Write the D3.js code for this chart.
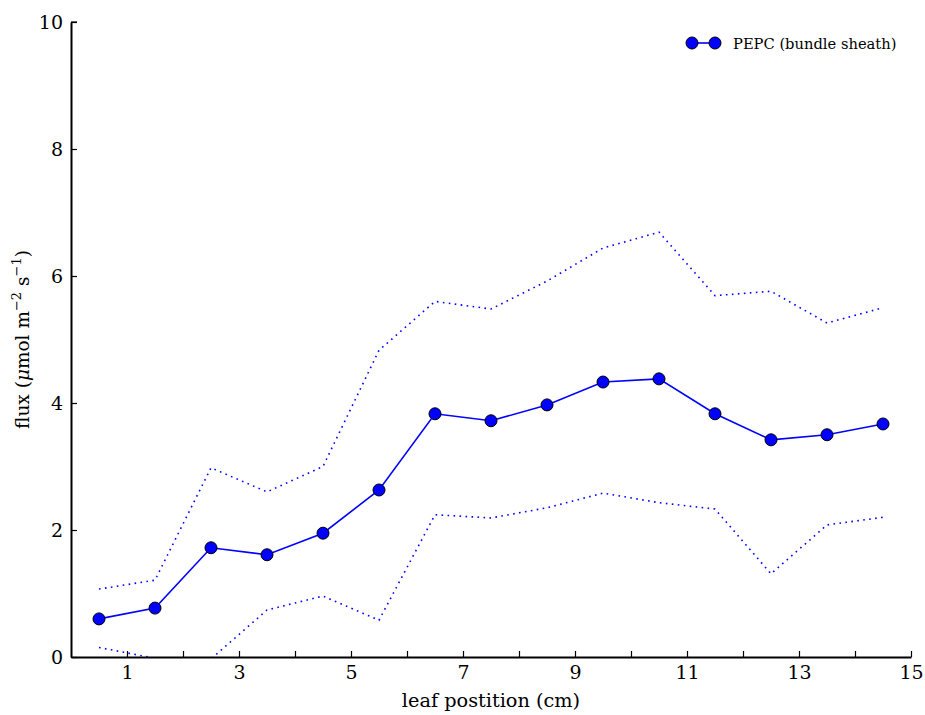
<!DOCTYPE html>
<html><head><meta charset="utf-8">
<script src="https://cdn.jsdelivr.net/npm/d3@7"></script>
<style>body{margin:0;background:#fff}svg{display:block}text{font-family:"DejaVu Serif",serif;fill:#000}</style>
</head><body>
<svg id="c" width="925" height="715"></svg>
<script>
const positions = [0.5,1.5,2.5,3.5,4.5,5.5,6.5,7.5,8.5,9.5,10.5,11.5,12.5,13.5,14.5];
const meanFlux  = [0.60,0.77,1.72,1.61,1.95,2.63,3.83,3.72,3.97,4.33,4.38,3.83,3.42,3.50,3.67];
const upperFlux = [1.07,1.21,2.98,2.60,3.00,4.83,5.60,5.48,5.92,6.44,6.69,5.69,5.76,5.26,5.50];
const lowerFlux = [0.15,-0.02,-0.03,0.74,0.96,0.58,2.24,2.19,2.35,2.58,2.43,2.33,1.31,2.08,2.20];
const xTickLabels = [1,3,5,7,9,11,13,15];
const yTickLabels = [0,2,4,6,8,10];
const seriesName = "PEPC (bundle sheath)";

const svg = d3.select("#c");
const m = {l:71, r:911, t:22, b:657};
const x = d3.scaleLinear().domain([0,15]).range([m.l, m.r]);
const y = d3.scaleLinear().domain([0,10]).range([m.b, m.t]);

svg.append("defs").append("clipPath").attr("id","clip")
  .append("rect").attr("x",m.l).attr("y",m.t).attr("width",m.r-m.l).attr("height",m.b-m.t);

const blue = "#0000ff";
const line = d3.line().x((d,i)=>x(positions[i])).y(d=>y(d));
const g = svg.append("g").attr("clip-path","url(#clip)");
[upperFlux, lowerFlux].forEach(arr=>{
  g.append("path").attr("d", line(arr)).attr("fill","none")
   .attr("stroke",blue).attr("stroke-width",1.6).attr("stroke-dasharray","1.6,4.4");
});
svg.append("path").attr("d", line(meanFlux)).attr("fill","none")
  .attr("stroke",blue).attr("stroke-width",1.6);
svg.selectAll("circle.pt").data(meanFlux).enter().append("circle").attr("class","pt")
  .attr("cx",(d,i)=>x(positions[i])).attr("cy",d=>y(d)).attr("r",6)
  .attr("fill",blue).attr("stroke","#000").attr("stroke-width",1);

// axes
const xAxis = d3.axisBottom(x).tickValues(d3.range(1,16)).tickSizeInner(-6).tickSizeOuter(0)
  .tickFormat(d=> xTickLabels.includes(d) ? d : "").tickPadding(9);
const xg = svg.append("g").attr("transform",`translate(0,${m.b})`).call(xAxis);
const yAxis = d3.axisLeft(y).tickValues(yTickLabels).tickSizeInner(-6).tickSizeOuter(0).tickPadding(8);
const yg = svg.append("g").attr("transform",`translate(${m.l},0)`).call(yAxis);
[xg,yg].forEach(a=>{
  a.select(".domain").attr("stroke","#000").attr("stroke-width",2);
  a.selectAll(".tick line").attr("stroke","#000").attr("stroke-width",1.2);
  a.selectAll(".tick text").attr("font-family","DejaVu Serif").attr("font-size",19).attr("fill","#000");
});
svg.append("line").attr("x1",m.l).attr("x2",m.l+6).attr("y1",m.t).attr("y2",m.t).attr("stroke","#000").attr("stroke-width",1.2);

svg.append("text").attr("x",(m.l+m.r)/2).attr("y",707).attr("text-anchor","middle")
  .attr("font-size",19.3).text("leaf postition (cm)");

const yl = svg.append("text").attr("transform",`translate(29,${(m.t+m.b)/2}) rotate(-90)`)
  .attr("text-anchor","middle").attr("font-size",18.5);
yl.append("tspan").text("flux (");
yl.append("tspan").attr("font-style","italic").text("μ");
yl.append("tspan").text("mol m");
yl.append("tspan").attr("dy",-8).attr("font-size",13).text("−2");
yl.append("tspan").attr("dy",8).text(" s");
yl.append("tspan").attr("dy",-8).attr("font-size",13).text("−1");
yl.append("tspan").attr("dy",8).text(")");

// legend
const lg = svg.append("g");
lg.append("line").attr("x1",692).attr("x2",715).attr("y1",43).attr("y2",43).attr("stroke",blue).attr("stroke-width",1.6);
[692,715].forEach(cx=>lg.append("circle").attr("cx",cx).attr("cy",43).attr("r",6).attr("fill",blue).attr("stroke","#000").attr("stroke-width",1));
lg.append("text").attr("x",733).attr("y",48.5).attr("font-size",14.7).text(seriesName);
</script>
</body></html>
